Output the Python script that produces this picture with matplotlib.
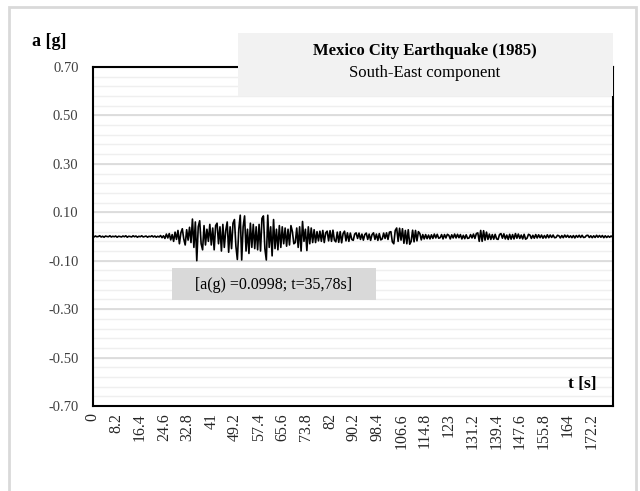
import numpy as np
import matplotlib
matplotlib.use("Agg")
import matplotlib.pyplot as plt
from matplotlib.patches import Rectangle

# Sampling interval of the record (s) and acceleration values in milli-g
dt = 0.5
acc_mg = [
    1, -2, 2, -1, 0, 3, -2, 1, -3, 2, 0, -1, 3, -2, 1, -1, 2, -3, 1, 0,
    -2, 2, -1, 3, -3, 1, 0, -2, 3, -1, 2, -3, 1, -1, 3, -2, 0, 2, -3, 1,
    -1, 3, -2, 2, -3, 1, -2, 4, -5, 3, -8, 10, -6, 12, -14, 8, -20, 18, -12, 25,
    -30, 15, 32, -10, -35, 28, -15, 38, -25, 72, -45, 60, -100, 40, 65, -30, -55, 45, -35, 30,
    -20, 50, -35, 35, -55, 45, 55, -30, 40, -60, 50, -45, 25, 60, -65, 40, -50, 55, 70, -40,
    -95, 30, 88, -97, 40, 85, -60, 30, -70, 55, -45, 50, -50, 40, -55, 50, -60, 75, 85, -50,
    -97, 88, -45, 40, -80, 70, -50, 30, -55, 45, -45, 40, -30, 35, -40, 30, -35, 45, 20, -30,
    -25, 35, -45, 40, -60, 62, -20, 30, -58, 40, -30, 35, -25, 28, -25, 20, -18, 22, -20, 25,
    -25, 15, 22, -18, 24, -20, 26, -15, -22, 18, -24, 20, -26, 12, 22, -18, 15, -20, 14, -12,
    -16, 10, 15, -8, 14, -12, 10, -15, 8, 14, -12, 10, -16, 8, 15, -12, 10, -16, 12, -14,
    -10, 14, -8, 15, -12, 18, 20, -22, -30, 25, 35, -20, 34, -15, 32, -28, 25, -30, 28, -32,
    -20, 26, -22, 25, -18, 20, 12, -14, 8, -10, 8, -9, 6, -10, 7, -8, 10, -6, 9, -7,
    -5, 8, -10, 8, -6, 9, 5, -10, 7, -6, 10, -6, 9, -5, 8, -10, 5, -9, 7, -8,
    -6, 8, -6, 10, -8, 12, 15, -20, 25, -20, 24, -15, 18, -12, 10, -12, 8, -11, 9, -10,
    -12, 8, 12, -7, 11, -10, 6, -12, 9, -11, 8, -10, 12, -7, 10, -8, 6, -10, 9, -11,
    -7, 9, 6, -8, 5, -7, 8, -6, 7, -5, 6, -7, 4, -6, 7, -5, 6, -4, 6, -5,
    -4, 5, 3, -6, 4, -5, 6, -3, 5, -4, 3, -5, 4, -6, 4, -3, 5, -4, 5, -4,
    -3, 4, 5, -4, 3, -5, 3, -4, 5, -3, 4, -3, 4, -5, 3, -4, 2, -3, 2, -2,
]
x_tick_values = [0, 8.2, 16.4, 24.6, 32.8, 41, 49.2, 57.4, 65.6, 73.8, 82, 90.2,
                 98.4, 106.6, 114.8, 123, 131.2, 139.4, 147.6, 155.8, 164, 172.2]
x_tick_labels = ["0", "8.2", "16.4", "24.6", "32.8", "41", "49.2", "57.4", "65.6",
                 "73.8", "82", "90.2", "98.4", "106.6", "114.8", "123", "131.2",
                 "139.4", "147.6", "155.8", "164", "172.2"]
y_major = [-0.70, -0.50, -0.30, -0.10, 0.10, 0.30, 0.50, 0.70]
y_tick_labels = ["-0.70", "-0.50", "-0.30", "-0.10", "0.10", "0.30", "0.50", "0.70"]
title_text = "Mexico City Earthquake (1985)"
subtitle_text = "South-East component"
annot_text = "[a(g) =0.0998; t=35,78s]"

acc = np.array(acc_mg) / 1000.0
t = np.arange(len(acc)) * dt

W, H = 640, 491
fig = plt.figure(figsize=(W / 100, H / 100), dpi=100)
serif = "Liberation Serif"

def fx(px):
    return px / W

def fy(py):
    return 1 - py / H

ax = fig.add_axes([fx(92.5), fy(406), fx(612.5) - fx(92.5), fy(67) - fy(406)])
ax.plot(t, acc, color="black", lw=1.2, zorder=3)
ax.set_xlim(0, 179.5)
ax.set_ylim(-0.70, 0.70)

# gridlines
minor = np.round(np.arange(-0.70, 0.7001, 0.04), 4)
for v in minor:
    ax.axhline(v, color="#efefef", lw=1.0, zorder=1)
for v in y_major:
    ax.axhline(v, color="#d9d9d9", lw=1.2, zorder=1.5)

ax.set_yticks(y_major)
ax.set_yticklabels(y_tick_labels, family=serif, fontsize=10.5, color="#404040")
ax.set_xticks(x_tick_values)
ax.set_xticklabels(x_tick_labels, rotation=90, family=serif, fontsize=11.5, color="#262626")
ax.tick_params(axis="both", length=0)
ax.tick_params(axis="y", pad=10)
ax.tick_params(axis="x", pad=5)
for s in ax.spines.values():
    s.set_color("black")
    s.set_linewidth(1.5)

# axis titles
fig.text(fx(49), fy(41), "a [g]", family=serif, fontsize=13, fontweight="bold",
         ha="center", va="center")
fig.text(fx(582), fy(384), "t [s]", family=serif, fontsize=12.5, fontweight="bold",
         ha="center", va="center", zorder=10)

# title box
fig.add_artist(Rectangle((fx(238), fy(96)), fx(613) - fx(238), fy(33) - fy(96),
                         transform=fig.transFigure, facecolor="#f2f2f2",
                         edgecolor="none", zorder=5))
fig.text(fx(425), fy(51), title_text, family=serif, fontsize=12, fontweight="bold",
         ha="center", va="center", zorder=6)
fig.text(fx(425), fy(73), subtitle_text, family=serif, fontsize=12,
         ha="center", va="center", zorder=6)

# annotation box
fig.add_artist(Rectangle((fx(172), fy(300)), fx(376) - fx(172), fy(268) - fy(300),
                         transform=fig.transFigure, facecolor="#d9d9d9",
                         edgecolor="none", zorder=5))
fig.text(fx(274), fy(285), annot_text, family=serif, fontsize=11.5,
         ha="center", va="center", zorder=6)

# outer chart border
fig.add_artist(Rectangle((fx(9), fy(495)), fx(636) - fx(9), fy(7) - fy(495),
                         transform=fig.transFigure, facecolor="none",
                         edgecolor="#d9d9d9", lw=2, zorder=0))

fig.savefig("out.png", dpi=100)
